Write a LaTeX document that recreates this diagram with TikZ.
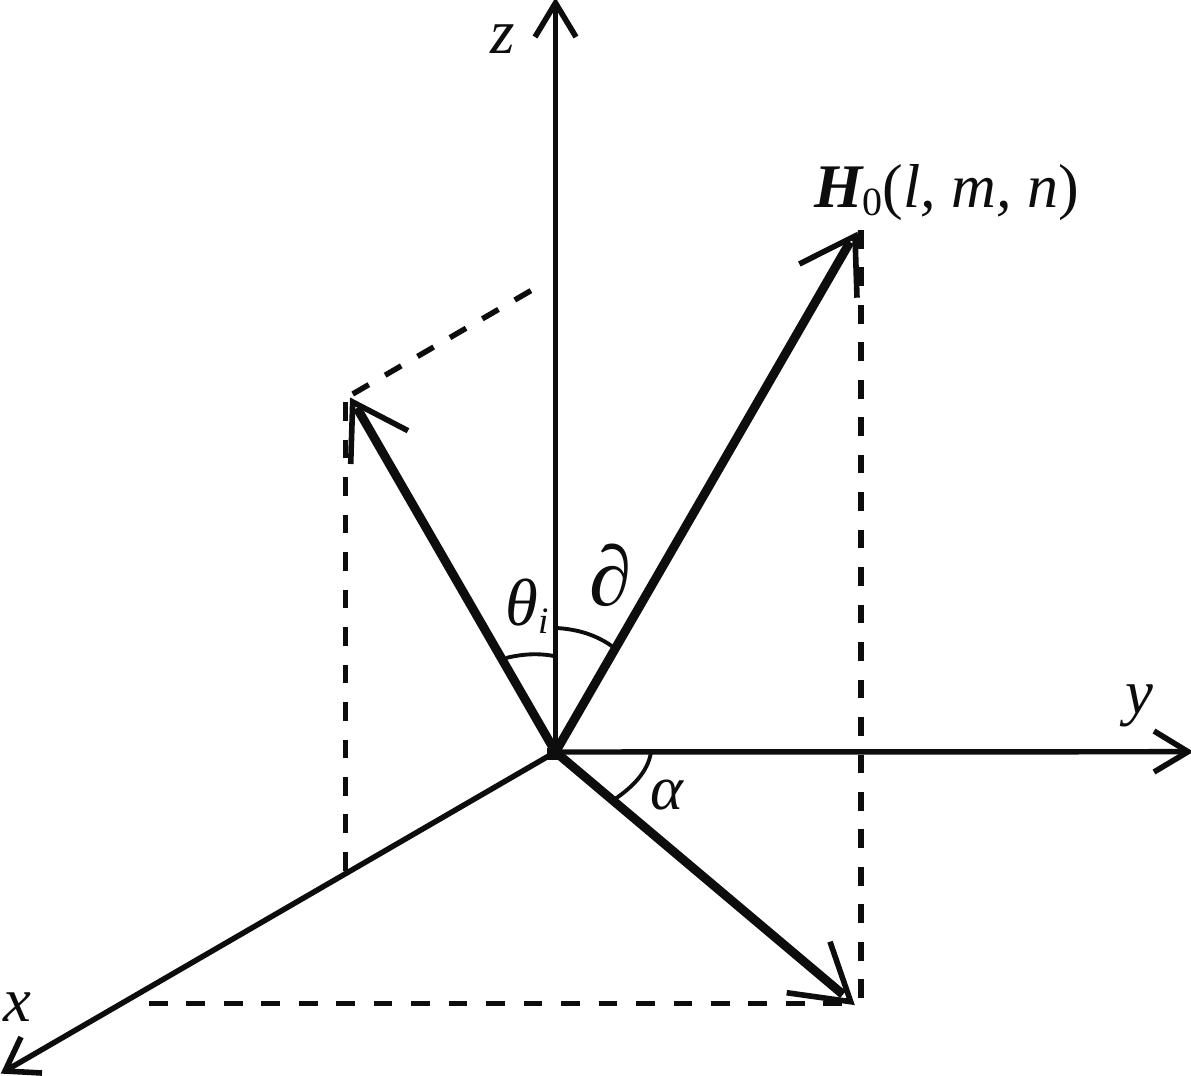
\documentclass[tikz,border=0pt]{standalone}
\usepackage{fontspec}
\setmainfont{Liberation Serif}
\begin{document}
\begin{tikzpicture}[x=0.75pt,y=-0.75pt,
  axisline/.style={draw=black!95,line width=4.1pt},
  vec/.style={draw=black!95,line width=6.7pt},
  tipline/.style={draw=black!95,line width=4.2pt},
  dashline/.style={draw=black!95,line width=4.1pt,dash pattern=on 14pt off 14.1pt},
  arcline/.style={draw=black!95,line width=2.9pt},
  lbl/.style={inner sep=0pt,text=black!95,font=\fontsize{40}{44}\selectfont\itshape},
]
\useasboundingbox (0,0) rectangle (1191,1075);
\coordinate (O) at (555.5,752);
\coordinate (Z) at (555.5,3);
\coordinate (Y) at (1188,751.7);
\coordinate (X) at (5,1071);
\coordinate (Ht) at (855,236);
\coordinate (H) at (850,242);
\coordinate (Lt) at (352.7,402);
\coordinate (L) at (357,408);
\coordinate (Pt) at (850.7,1001.7);
\coordinate (P) at (843,994.5);
% axes
\draw[axisline] (O) -- (Z);
\draw[tipline] (535,37) -- (Z) -- (576,37);
\draw[axisline] (O) -- (Y);
\draw[tipline] (1154,731) -- (Y) -- (1154,772);
\draw[axisline] (O) -- (X);
\draw[tipline] (21,1037) -- (X) -- (42,1073);
% vectors
\draw[vec] (O) -- (H);
\draw[tipline] (799.3,264) -- (Ht) -- (857,297.7);
\draw[vec] (O) -- (L);
\draw[tipline] (408,430.7) -- (Lt) -- (350.7,464);
\draw[vec] (O) -- (P);
\draw[tipline] (830,941.7) -- (Pt) -- (786.7,992.7);
\fill[black!95,shift={(O)}] (-9,-4) rectangle (6,8);
% dashed
\coordinate (Hd) at (861,230);
\coordinate (Hb) at (861,1000);
\draw[dashline] (Hd) -- (Hb);
\coordinate (Ld) at (345.7,402.3);
\coordinate (Lb) at (345.7,871);
\draw[dashline] (Ld) -- (Lb);
\coordinate (Ls) at (352.7,394);
\coordinate (Ze) at (532,290);
\draw[dashline] (Ls) -- (Ze);
\coordinate (Xd) at (149,1003.7);
\coordinate (Pd) at (843.3,1003.7);
\draw[dashline] (Xd) -- (Pd);
% arcs
\draw[arcline] (506,658) .. controls (522,654) and (538,653) .. (554,656);
\draw[arcline] (556,628) .. controls (577,629) and (597,635) .. (613,647);
\draw[arcline] (651,752) .. controls (648,772) and (632,788) .. (612,801);
% labels
\node[lbl,font=\fontsize{47}{50}\selectfont\itshape] (zl) at (503,39) {z};
\node[lbl,font=\fontsize{47}{50}\selectfont\itshape] (yl) at (1139,706) {y};
\node[lbl,font=\fontsize{47}{50}\selectfont\itshape] (xl) at (17,1007) {x};
\node[lbl,font=\fontsize{47}{50}\selectfont\itshape] (al) at (667,795) {α};
\node[lbl,font=\fontsize{50}{52}\selectfont\itshape] (th) at (527,606) {θ\raisebox{-6pt}{\fontsize{28}{30}\selectfont i}};
\node[lbl,font=\fontsize{64}{66}\selectfont\upshape] (pa) at (611,575) {∂};
\node[lbl,anchor=west,font=\fontsize{46.5}{50}\selectfont\itshape] (hl) at (814,193) {{\bfseries H}\raisebox{-6pt}{\fontsize{30}{32}\selectfont\upshape 0}{\upshape (}l, m, n{\upshape )}};
\end{tikzpicture}
\end{document}
